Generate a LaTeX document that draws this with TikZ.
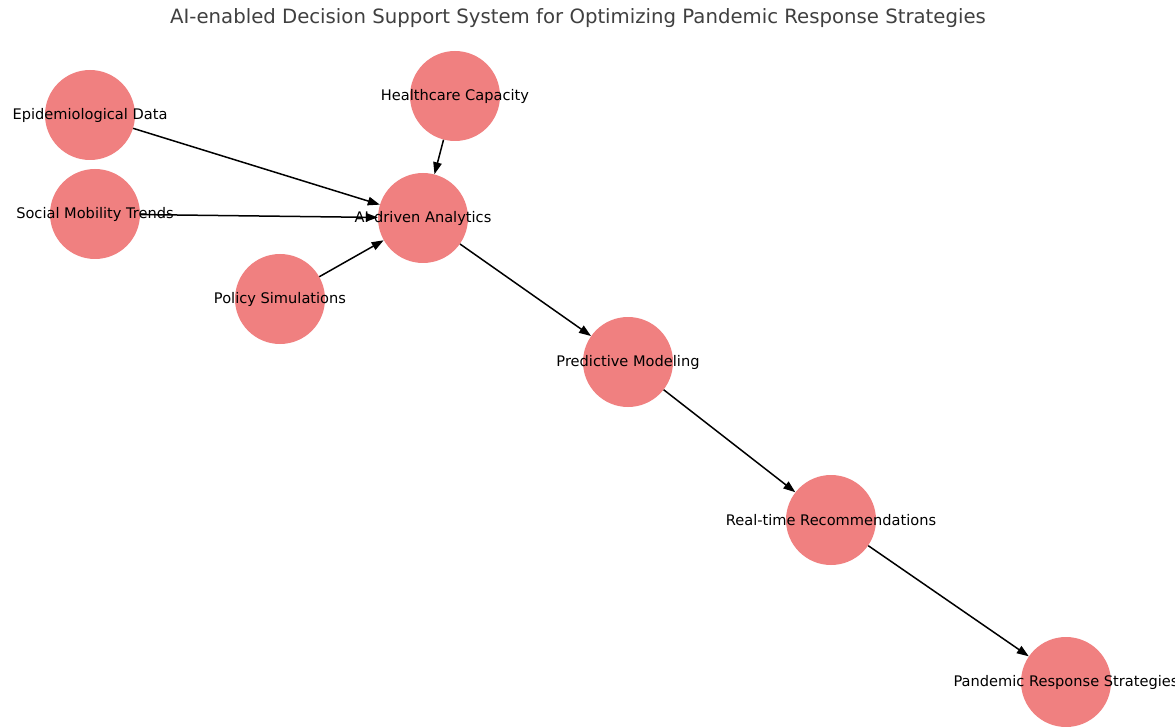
\documentclass[tikz,border=0pt]{standalone}
\usepackage{fontspec}
\setmainfont{DejaVu Sans}
\usetikzlibrary{arrows.meta}
\definecolor{nodefill}{HTML}{F08080}
\definecolor{titlegray}{HTML}{404040}
\tikzset{
  dot/.style={circle, fill=nodefill, minimum size=90pt, inner sep=0pt, draw=none},
  lbl/.style={font=\fontsize{14.6}{17}\selectfont, text=black, inner sep=0pt},
  link/.style={draw=black, line width=1.5pt, -{Triangle[length=12pt,width=8.5pt]}, shorten <=0pt, shorten >=0pt},
}
\begin{document}
\begin{tikzpicture}[x=1pt,y=-1pt]
\useasboundingbox (0,0) rectangle (1175,727);
\clip (0,0) rectangle (1175,727);
\fill[white] (0,0) rectangle (1175,727);
\node[font=\fontsize{19.7}{23}\selectfont, text=titlegray] (title) at (578,18) {AI-enabled Decision Support System for Optimizing Pandemic Response Strategies};
% circles
\node[dot] (epi) at (90,115) {};
\node[dot] (hc) at (455,96) {};
\node[dot] (soc) at (95,214) {};
\node[dot] (ai) at (423,218) {};
\node[dot] (pol) at (280,299) {};
\node[dot] (pm) at (628,362) {};
\node[dot] (rt) at (831,520) {};
\node[dot] (prs) at (1066,682) {};
% edges
\draw[link] (epi) -- (ai);
\draw[link] (hc) -- (ai);
\draw[link] (soc) -- (ai);
\draw[link] (pol) -- (ai);
\draw[link] (ai) -- (pm);
\draw[link] (pm) -- (rt);
\draw[link] (rt) -- (prs);
% labels
\node[lbl] (epil) at (epi) {Epidemiological Data};
\node[lbl] (hcl) at (hc) {Healthcare Capacity};
\node[lbl] (socl) at (soc) {Social Mobility Trends};
\node[lbl] (ail) at (ai) {AI-driven Analytics};
\node[lbl] (poll) at (pol) {Policy Simulations};
\node[lbl] (pml) at (pm) {Predictive Modeling};
\node[lbl] (rtl) at (rt) {Real-time Recommendations};
\node[lbl] (prsl) at (prs) {Pandemic Response Strategies};
\end{tikzpicture}
\end{document}
